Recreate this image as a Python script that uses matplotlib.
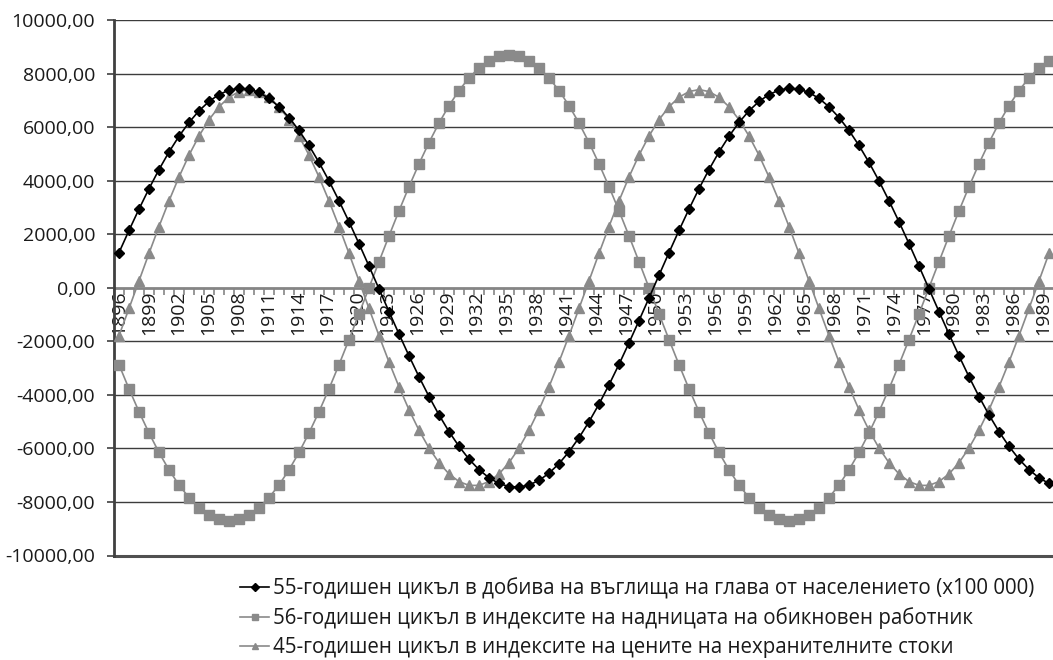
import numpy as np
import matplotlib
matplotlib.use("Agg")
import matplotlib.pyplot as plt
from matplotlib.ticker import FixedLocator, FuncFormatter
from matplotlib.transforms import ScaledTranslation

plt.rcParams['font.family'] = ['Open Sans', 'DejaVu Sans']

# години 1896-1989
first_year = 1896
last_year = 1989
years = list(range(first_year, last_year + 1))

# 55-годишен цикъл (въглища)
coal = [1313, 2140, 2939, 3700, 4414, 5070, 5659, 6174, 6609, 6958,
        7216, 7380, 7448, 7419, 7293, 7072, 6759, 6358, 5874, 5313,
        4682, 3992, 3249, 2464, 1646, 807, -43, -891, -1729, -2543,
        -3325, -4063, -4749, -5373, -5923, -6402, -6794, -7098, -7310, -7426,
        -7446, -7368, -7195, -6927, -6569, -6125, -5601, -5005, -4346, -3627,
        -2861, -2058, -1228, -383, 468, 1313, 2140, 2939, 3700, 4414,
        5070, 5659, 6174, 6609, 6958, 7216, 7380, 7448, 7419, 7293,
        7072, 6759, 6358, 5874, 5313, 4682, 3992, 3249, 2464, 1646,
        807, -43, -891, -1729, -2543, -3325, -4063, -4749, -5373, -5923,
        -6402, -6794, -7098, -7310]

# 56-годишен цикъл (надници)
wages = [-2873, -3775, -4629, -5424, -6152, -6802, -7366, -7838, -8212, -8482,
         -8645, -8700, -8645, -8482, -8212, -7838, -7366, -6802, -6152, -5424,
         -4629, -3775, -2873, -1936, -974, 0, 974, 1936, 2873, 3775,
         4629, 5424, 6152, 6802, 7366, 7838, 8212, 8482, 8645, 8700,
         8645, 8482, 8212, 7838, 7366, 6802, 6152, 5424, 4629, 3775,
         2873, 1936, 974, 0, -974, -1936, -2873, -3775, -4629, -5424,
         -6152, -6802, -7366, -7838, -8212, -8482, -8645, -8700, -8645, -8482,
         -8212, -7838, -7366, -6802, -6152, -5424, -4629, -3775, -2873, -1936,
         -974, 0, 974, 1936, 2873, 3775, 4629, 5424, 6152, 6802,
         7366, 7838, 8212, 8482]

# 45-годишен цикъл (цени)
prices = [-1790, -774, 258, 1285, 2287, 3244, 4138, 4952, 5669, 6276,
          6760, 7113, 7328, 7400, 7328, 7113, 6760, 6276, 5669, 4952,
          4138, 3244, 2287, 1285, 258, -774, -1790, -2772, -3700, -4556,
          -5323, -5987, -6534, -6954, -7238, -7382, -7382, -7238, -6954, -6534,
          -5987, -5323, -4556, -3700, -2772, -1790, -774, 258, 1285, 2287,
          3244, 4138, 4952, 5669, 6276, 6760, 7113, 7328, 7400, 7328,
          7113, 6760, 6276, 5669, 4952, 4138, 3244, 2287, 1285, 258,
          -774, -1790, -2772, -3700, -4556, -5323, -5987, -6534, -6954, -7238,
          -7382, -7382, -7238, -6954, -6534, -5987, -5323, -4556, -3700, -2772,
          -1790, -774, 258, 1285]

labels = [
    '55-годишен цикъл в добива на въглища на глава от населението (x100 000)',
    '56-годишен цикъл в индексите на надницата на обикновен работник',
    '45-годишен цикъл в индексите на цените на нехранителните стоки',
]

W, H = 1053, 660
fig = plt.figure(figsize=(W / 100, H / 100), dpi=100)
ax = fig.add_axes([114 / W, 1 - 555.5 / H, (1054 - 114) / W, (555.5 - 20) / H])

x = np.arange(len(years))
ax.plot(x, coal, color='black', lw=1.2, marker='D', ms=5, zorder=4, label=labels[0])
ax.plot(x, wages, color='#8a8a8a', lw=1.2, marker='s', ms=6.5, zorder=3, label=labels[1])
ax.plot(x, prices, color='#8a8a8a', lw=1.2, marker='^', ms=6.5, zorder=3, label=labels[2])

ax.set_xlim(-0.5, len(years) - 0.5)
ax.set_ylim(-10000, 10000)

# y ос
yt = list(range(-10000, 10001, 2000))
ax.set_yticks(yt)
ax.yaxis.set_major_formatter(FuncFormatter(lambda v, p: f"{v:.2f}".replace('.', ',')))
ax.tick_params(axis='y', length=5, width=1.2, color='#404040', pad=8.5, labelsize=14, labelcolor='#1a1a1a')
for v in yt:
    if v not in (0, -10000):
        ax.axhline(v, color='#3c3c3c', lw=1.0, zorder=1)

# x ос при нулата
ax.spines['bottom'].set_position(('data', 0))
ax.spines['bottom'].set_color('#858585')
ax.spines['bottom'].set_linewidth(2)
ax.spines['bottom'].set_zorder(2)
ax.spines['top'].set_visible(False)
ax.spines['right'].set_visible(False)
ax.spines['left'].set_color('#404040')
ax.spines['left'].set_linewidth(2)
ax.axhline(-10000, color='#505050', lw=2.2, zorder=2, clip_on=False)

ax.xaxis.set_major_locator(FixedLocator(x[::3]))
ax.set_xticklabels([str(y) for y in years[::3]], rotation=90, va='top', ha='center')
ax.xaxis.set_minor_locator(FixedLocator(np.arange(len(years) + 1) - 0.5))
ax.tick_params(axis='x', which='major', length=0, pad=2, labelsize=14, labelcolor='#1a1a1a')
ax.tick_params(axis='x', which='minor', length=5, width=1.2, color='#858585')

# етикетите надясно леко се изместват наляво
xlabels = ax.get_xticklabels()
n = len(xlabels)
for k, lab in enumerate(xlabels):
    dx = -6.0 * k / (n - 1) / 100
    lab.set_transform(lab.get_transform() + ScaledTranslation(dx, 0, fig.dpi_scale_trans))

leg = ax.legend(loc='upper left', bbox_to_anchor=(240 / W, 1 - 578 / H),
                bbox_transform=fig.transFigure, frameon=False, fontsize=14.8,
                handlelength=1.42, handletextpad=0.2, labelspacing=0.39,
                borderpad=0, borderaxespad=0, markerscale=0.75)
for t in leg.get_texts():
    t.set_color('#1a1a1a')

fig.savefig('out.png', dpi=100)
